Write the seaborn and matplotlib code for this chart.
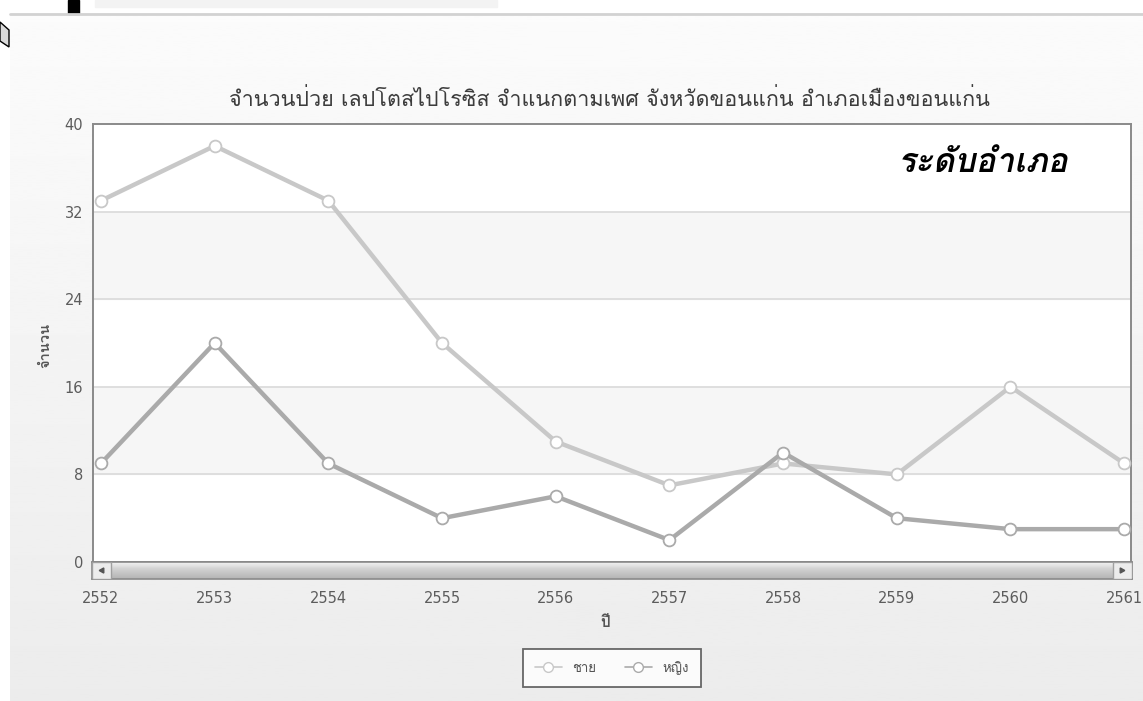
import numpy as np
import pandas as pd
import matplotlib
matplotlib.use("Agg")
import matplotlib.pyplot as plt
import matplotlib.font_manager as fm
from matplotlib.ft2font import FT2Font
from matplotlib.patches import Rectangle, Polygon
import seaborn as sns

# ---- data -------------------------------------------------------------
years = [2552, 2553, 2554, 2555, 2556, 2557, 2558, 2559, 2560, 2561]
male = [33, 38, 33, 20, 11, 7, 9, 8, 16, 9]
female = [9, 20, 9, 4, 6, 2, 10, 4, 3, 3]
series_names = ["ชาย", "หญิง"]
y_ticks = [0, 8, 16, 24, 32, 40]

title = "จำนวนป่วย เลปโตสไปโรซิส จำแนกตามเพศ จังหวัดขอนแก่น อำเภอเมืองขอนแก่น"
badge = "ระดับอำเภอ"
x_label = "ปี"
y_label = "จำนวน"

df = pd.DataFrame({
    "year": years * 2,
    "count": male + female,
    "sex": [series_names[0]] * len(years) + [series_names[1]] * len(years),
})

# ---- fonts: find an installed family that can draw Thai ----------------
def thai_family():
    preferred = []
    others = []
    for f in fm.fontManager.ttflist:
        try:
            ft = FT2Font(f.fname)
            if ft.get_char_index(0x0E08) and ft.get_char_index(0x0E33):
                name = f.name
                if "Thai" in name or "Loma" in name or "Garuda" in name:
                    preferred.append(name)
                else:
                    others.append(name)
        except Exception:
            continue
    for lst in (preferred, others):
        if lst:
            return lst[0]
    return None

sns.set_style("white")
tf = thai_family()
fams = ([tf] if tf else []) + ["DejaVu Sans"]
plt.rcParams["font.family"] = fams

W, H = 1143, 701
fig = plt.figure(figsize=(W / 100, H / 100), dpi=100)
fig.patch.set_facecolor("white")

def fx(px):
    return px / W

def fy(py):
    return 1 - py / H

# ---- page background ---------------------------------------------------
bg = fig.add_axes([fx(10), 0, 1 - fx(10), fy(15)], zorder=-10)
grad = np.linspace(0.985, 0.925, 256).reshape(-1, 1)
bg.imshow(grad, aspect="auto", cmap="gray", vmin=0, vmax=1,
          extent=[0, 1, 0, 1], origin="upper")
bg.set_axis_off()

fig.add_artist(plt.Line2D([fx(10), 1], [fy(14), fy(14)], color="#d2d2d2",
                          lw=2, transform=fig.transFigure))
fig.add_artist(Rectangle((fx(68), fy(14)), fx(11), 14 / H, color="black",
                         transform=fig.transFigure))
fig.add_artist(Rectangle((fx(95), fy(7)), fx(402), 7 / H, color="#f3f3f3",
                         transform=fig.transFigure))
fig.add_artist(Polygon([(fx(0), fy(22)), (fx(9), fy(30)), (fx(9), fy(47)),
                        (fx(0), fy(41))], closed=True, facecolor="#dadada",
                       edgecolor="black", lw=1, transform=fig.transFigure))

# ---- main plot ---------------------------------------------------------
left, right, top, bottom = 93, 1131, 124, 562
ax = fig.add_axes([fx(left), fy(bottom), fx(right - left), (bottom - top) / H])
ax.set_facecolor("white")

for lo, hi in zip(y_ticks[:-1], y_ticks[1:]):
    if lo in (8, 24):
        ax.axhspan(lo, hi, color="#f6f6f6", zorder=0)
for t in y_ticks[1:-1]:
    ax.axhline(t, color="#dadada", lw=1.2, zorder=1)

palette = {series_names[0]: "#c8c8c8", series_names[1]: "#aaaaaa"}
sns.lineplot(data=df, x="year", y="count", hue="sex", palette=palette,
             marker="o", markersize=8.5, markerfacecolor="white",
             markeredgewidth=1.3, linewidth=3.2, ax=ax, legend=False, zorder=3)
for line in ax.lines[-2:]:
    line.set_markeredgecolor(line.get_color())

ax.set_xlim(2551.93, 2561.06)
ax.set_ylim(0, 40)
ax.set_yticks(y_ticks)
ax.set_xticks(years)
ax.set_xlabel("")
ax.set_ylabel("")
ax.tick_params(axis="both", length=0, labelsize=10.5, colors="#5c5c5c",
               labelfontfamily="DejaVu Sans")
ax.tick_params(axis="x", pad=21)
ax.tick_params(axis="y", pad=7)
for s in ax.spines.values():
    s.set_visible(True)
    s.set_color("#8a8a8a")
    s.set_linewidth(1.4)

# ---- scrollbar below the plot -----------------------------------------
sb = fig.add_axes([fx(92), fy(579), fx(1132 - 92), 17 / H], zorder=5)
sgrad = np.concatenate([np.linspace(0.95, 0.86, 20), np.linspace(0.84, 0.70, 44)]).reshape(-1, 1)
sb.imshow(sgrad, aspect="auto", cmap="gray", vmin=0, vmax=1,
          extent=[0, 1, 0, 1], origin="upper")
sb.set_xlim(0, 1)
sb.set_ylim(0, 1)
bw = 19 / (1132 - 92)
for x0 in (0, 1 - bw):
    sb.add_patch(Rectangle((x0, 0.02), bw, 0.96, facecolor="#ececec",
                           edgecolor="#a0a0a0", lw=1, zorder=3))
sb.add_patch(Polygon([(bw * 0.62, 0.35), (bw * 0.62, 0.65), (bw * 0.38, 0.5)],
                     color="#555555", zorder=4))
sb.add_patch(Polygon([(1 - bw * 0.62, 0.35), (1 - bw * 0.62, 0.65),
                      (1 - bw * 0.38, 0.5)], color="#555555", zorder=4))
sb.set_xticks([])
sb.set_yticks([])
for s in sb.spines.values():
    s.set_color("#8a8a8a")
    s.set_linewidth(1.2)

# ---- texts -------------------------------------------------------------
fig.text(fx(609), fy(100), title, ha="center", va="center", fontsize=15.5,
         color="#3c3c3c")
fig.text(fx(983), fy(163), badge, ha="center", va="center", fontsize=24,
         fontweight="bold", fontstyle="italic", color="black")
fig.text(fx(605), fy(623), x_label, ha="center", va="center", fontsize=11,
         fontweight="bold", color="#555555")
fig.text(fx(45), fy(345), y_label, ha="center", va="center", fontsize=10.5,
         fontweight="bold", color="#555555", rotation=90)

# ---- legend ------------------------------------------------------------
handles = [plt.Line2D([], [], color=palette[n], lw=1.2, marker="o",
                      markersize=7, markerfacecolor="white",
                      markeredgecolor=palette[n]) for n in series_names]
leg = fig.legend(handles, series_names, loc="center",
                 bbox_to_anchor=(fx(612), fy(668)), ncol=2, fontsize=9.5,
                 frameon=True, fancybox=False, handlelength=2.0,
                 columnspacing=2.2, borderpad=0.9, labelcolor="#555555")
leg.get_frame().set_edgecolor("#444444")
leg.get_frame().set_linewidth(1.3)
leg.get_frame().set_facecolor("white")

fig.savefig("out.png", dpi=100)
